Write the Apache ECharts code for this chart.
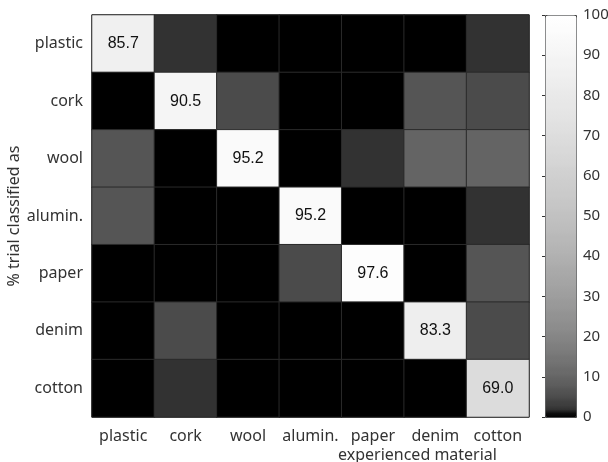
<!DOCTYPE html>
<html>
<head>
<meta charset="utf-8">
<script src="https://cdn.jsdelivr.net/npm/echarts@6/dist/echarts.min.js"></script>
<style>html,body{margin:0;padding:0;background:#fff}#c{width:608px;height:462px}</style>
</head>
<body>
<div id="c"></div>
<script>
// experienced material (columns) and classified-as (rows)
var categories = ['plastic', 'cork', 'wool', 'alumin.', 'paper', 'denim', 'cotton'];
// each row: "% trial classified as" <row> when experiencing <column>
var rowPlastic = [85.7, 2.4, 0, 0, 0, 0, 2.4];
var rowCork    = [0, 90.5, 4.8, 0, 0, 7.1, 4.8];
var rowWool    = [7.1, 0, 95.2, 0, 2.4, 9.5, 9.5];
var rowAlumin  = [7.1, 0, 0, 95.2, 0, 0, 2.4];
var rowPaper   = [0, 0, 0, 4.8, 97.6, 0, 7.1];
var rowDenim   = [0, 4.8, 0, 0, 0, 83.3, 4.8];
var rowCotton  = [0, 2.4, 0, 0, 0, 0, 69.0];
var rows = [rowPlastic, rowCork, rowWool, rowAlumin, rowPaper, rowDenim, rowCotton];
var colorbarTicks = [0, 10, 20, 30, 40, 50, 60, 70, 80, 90, 100];

var data = [];
rows.forEach(function (r, yi) {
  r.forEach(function (v, xi) { data.push([xi, yi, v]); });
});

// stepped gray colormap (64 levels, gamma-brightened)
var cmap = [];
for (var k = 0; k < 64; k++) {
  var g = Math.round(255 * Math.pow(k / 63, 0.4));
  var c = 'rgb(' + g + ',' + g + ',' + g + ')';
  cmap.push(c, c);
}

var chart = echarts.init(document.getElementById('c'));
var labelFont = 'Noto Sans';
chart.setOption({
  animation: false,
  backgroundColor: '#fff',
  title: {
    text: 'experienced material',
    left: 333, top: 442,
    textStyle: { fontFamily: labelFont, fontSize: 16, fontWeight: 'normal', color: '#333' }
  },
  grid: [
    { left: 92, top: 15, width: 437, height: 402, show: true, borderColor: '#333', borderWidth: 1, backgroundColor: 'transparent', outerBoundsMode: 'none', containLabel: false },
    { left: 545, top: 15, width: 31, height: 402, outerBoundsMode: 'none', containLabel: false }
  ],
  xAxis: [
    {
      type: 'category', data: categories, gridIndex: 0,
      axisLine: { show: false }, axisTick: { show: false }, splitLine: { show: false },
      axisLabel: { interval: 0, margin: 11, fontFamily: labelFont, fontSize: 16, color: '#333' }
    },
    { type: 'value', gridIndex: 1, show: false, min: 0, max: 1 }
  ],
  yAxis: [
    {
      type: 'category', data: categories, gridIndex: 0, inverse: true,
      name: '% trial classified as', nameLocation: 'middle', nameGap: 70, nameMoveOverlap: false,
      nameTextStyle: { fontFamily: labelFont, fontSize: 16, color: '#333' },
      axisLine: { show: false }, axisTick: { show: false }, splitLine: { show: false },
      axisLabel: { interval: 0, margin: 9, fontFamily: labelFont, fontSize: 16, color: '#333' }
    },
    {
      type: 'value', gridIndex: 1, position: 'right', min: colorbarTicks[0], max: colorbarTicks[colorbarTicks.length - 1], interval: 10,
      axisLine: { show: false }, splitLine: { show: false },
      axisTick: { show: true, inside: true, length: 3, lineStyle: { color: '#333' } },
      axisLabel: { margin: 7, fontFamily: labelFont, fontSize: 15, color: '#333' }
    }
  ],
  visualMap: {
    type: 'continuous', min: 0, max: 100, calculable: false, hoverLink: false,
    orient: 'vertical', left: 545, top: 15, itemWidth: 31, itemHeight: 402,
    padding: 0, borderColor: '#444', borderWidth: 1,
    inRange: { color: cmap }, seriesIndex: 0, text: null
  },
  series: [{
    type: 'heatmap', xAxisIndex: 0, yAxisIndex: 0, data: data,
    itemStyle: { borderColor: '#2a2a2a', borderWidth: 1 },
    label: {
      show: true, fontFamily: 'Liberation Sans', fontSize: 16, color: '#111',
      formatter: function (p) { return p.value[0] === p.value[1] ? p.value[2].toFixed(1) : ''; }
    }
  }]
});
</script>
</body>
</html>
